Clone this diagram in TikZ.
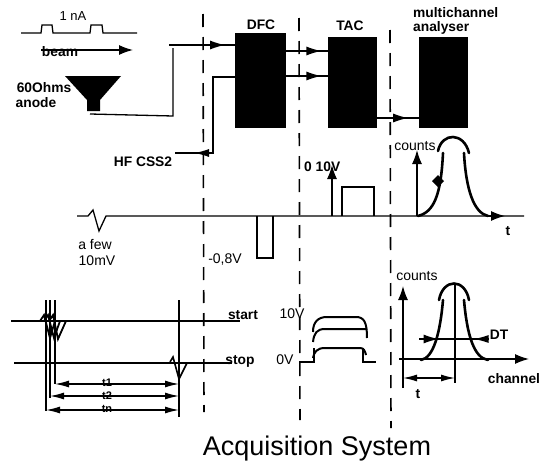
\documentclass[tikz,border=0pt]{standalone}
\usepackage{fontspec}
\setmainfont{Liberation Sans}
\usetikzlibrary{arrows.meta,decorations.markings}
\tikzset{
  blackbox/.style={fill=black,draw=black,minimum width=#1,inner sep=0pt},
  sig/.style={line width=1.3pt,black},
  curve/.style={line width=2.6pt,black,line cap=round},
  sep/.style={line width=1.6pt,dash pattern=on 13pt off 10pt},
  head/.style={-{Latex[length=14pt,width=10pt]}},
  midarrow/.style={postaction={decorate},decoration={markings,mark=at position #1 with {\arrow{Latex[length=15pt,width=9pt]}}}},
  midback/.style={postaction={decorate},decoration={markings,mark=at position #1 with {\arrowreversed{Latex[length=15pt,width=8pt]}}}},
  bold/.style={font=\bfseries\fontsize{13.8}{15}\selectfont,inner sep=0pt},
  plain/.style={font=\fontsize{14}{15}\selectfont,inner sep=0pt},
  small/.style={font=\bfseries\fontsize{11}{12}\selectfont,inner sep=0pt},
  span/.style={sig,{Latex[length=14pt,width=7pt]}-{Latex[length=14pt,width=7pt]}},
}
\begin{document}
\begin{tikzpicture}[x=1pt,y=-1pt]
\useasboundingbox (0,0) rectangle (542,466);
% separators
\draw[sep] (203,14) -- (204,412);
\draw[sep] (299,18) -- (300,420);
\draw[sep] (390,30) -- (391,428);
% boxes
\node[blackbox=50pt,minimum height=94pt] (dfc) at (260,80) {};
\node[blackbox=48pt,minimum height=90pt] (tac) at (352,82) {};
\node[blackbox=48pt,minimum height=90pt] (mca) at (443,82) {};
\node[bold] (dfcl) at (261,25) {DFC};
\node[bold] (tacl) at (350,26) {TAC};
\node[bold,anchor=west] (mcal1) at (413,13) {multichannel};
\node[bold,anchor=west] (mcal2) at (413,28) {analyser};
% beam
\node[plain,font=\fontsize{13}{14}\selectfont] (na) at (73,16) {1 nA};
\draw[sig] (21,33) -- (41,33) -- (42,25) -- (52,25) -- (53,33) -- (90,33) -- (91,25) -- (102,25) -- (103,33) -- (137,33);
\node[bold] (beam) at (60,52) {beam};
\coordinate (bs) at (41,50); \coordinate (be) at (133,50);
\draw[sig,head] (bs) -- (be);
% anode
\fill[black] (65,76) -- (121,76) -- (100,100) -- (100,111) -- (87,111) -- (87,100) -- cycle;
\node[bold] (ohm) at (44,88) {60Ohms};
\node[bold] (anode) at (36,103) {anode};
\coordinate (an) at (90,114); \coordinate (an2) at (173,116); \coordinate (an3) at (173,48);
\draw[sig] (an) -- (an2) -- (an3);
% connectors to DFC
\coordinate (i1) at (169,45); \coordinate (i2) at (235,45);
\draw[sig,midarrow=0.85] (i1) -- (i2);
\coordinate (hf) at (175,153); \coordinate (hf2) at (213,153); \coordinate (hf3) at (213,77);
\node[bold] (hfl) at (143,162) {HF CSS2};
\draw[sig,midback=0.14] (hf) -- (hf2) -- (hf3) -- (dfc.west |- hf3);
% DFC to TAC
\coordinate (d1) at (dfc.east |- 0,51); \coordinate (d2) at (dfc.east |- 0,76);
\draw[sig,midarrow=0.85] (d1) -- (tac.west |- d1);
\draw[sig,midarrow=0.85] (d2) -- (tac.west |- d2);
% TAC to MCA
\coordinate (t1) at (tac.east |- 0,118);
\draw[sig,midarrow=0.75] (t1) -- (mca.west |- t1);
% middle baseline
\coordinate (m0) at (77,216); \coordinate (m1) at (524,216);
\draw[sig] (m0) -- (88,216) -- (93,210) -- (99,231) -- (106,216) -- (m1);
\node[plain] (few) at (95,245) {a few};
\node[plain] (mv) at (97,261) {10mV};
\node[plain] (v08) at (225,260) {-0,8V};
\draw[sig] (257,216) -- (257,258) -- (273,258) -- (273,216);
\draw[sig] (342,216) -- (342,187) -- (374,187) -- (374,216);
\coordinate (a1b) at (332,216); \coordinate (a1t) at (332,165);
\draw[sig,head] (a1b) -- (a1t);
\node[bold,anchor=west] (ten) at (304,167) {0 10V};
\coordinate (a2b) at (417,216); \coordinate (a2t) at (417,150);
\draw[sig,head] (a2b) -- (a2t);
\node[plain] (c1) at (415,146) {counts};
\draw[curve] (418,216) .. controls (434,212) and (441,195) .. (443,153);
\draw[curve] (438,151) .. controls (442,132) and (464,132) .. (469,153);
\draw[curve] (464,153) .. controls (466,190) and (474,213) .. (488,216);
\fill[black] (438,175) -- (444,181) -- (438,187) -- (432,181) -- cycle;
\coordinate (a3) at (488,216); \coordinate (a4) at (505,216);
\draw[sig,head] (a3) -- (a4);
\node[bold] (tt) at (508,231) {t};
% timing
\coordinate (s0) at (11,321); \coordinate (s1) at (240,321);
\coordinate (p0) at (14,363); \coordinate (p1) at (232,363);
\draw[sig] (s0) -- (s1);
\draw[sig] (p0) -- (p1);
\node[bold] (start) at (243,315) {start};
\node[bold] (stop) at (240,361) {stop};
\draw[line width=1.8pt] (40,321) -- (44,315) -- (50,338) -- (55,321);
\draw[line width=1.8pt] (44,321) -- (48,315) -- (54,338) -- (60,321);
\draw[line width=1.8pt] (49,321) -- (53,315) -- (58,339) -- (66,321);
\draw[line width=1.6pt] (170,362) -- (173,357) -- (179,379) -- (187,363);
\coordinate (v1) at (46,300); \coordinate (v1b) at (46,411);
\coordinate (v2) at (50,300); \coordinate (v2b) at (50,398);
\coordinate (v3) at (55,300); \coordinate (v3b) at (55,384);
\coordinate (vr) at (179,300); \coordinate (vrb) at (179,417);
\draw[sig] (v1) -- (v1b); \draw[sig] (v2) -- (v2b); \draw[sig] (v3) -- (v3b);
\draw[line width=1.3pt] (vr) -- (vrb);
\draw[span] (v3b) -- (vr |- v3b);
\draw[span] (v2b |- 0,396) -- (vr |- 0,396);
\draw[span] (v1b |- 0,410) -- (vr |- 0,410);
\node[small] (l1) at (107,383) {t1};
\node[small] (l2) at (107,396) {t2};
\node[small] (l3) at (107,409) {tn};
% TAC pulses
\node[plain] (v10) at (292,314) {10V};
\node[plain] (v0) at (285,360) {0V};
\draw[sig] (299,362) -- (314,362) -- (314,348);
\draw[sig] (363,348) -- (363,362) -- (376,362);
\draw[line width=2pt] (313,332) .. controls (313,322) and (318,317) .. (327,317) -- (356,317) .. controls (364,317) and (367,322) .. (367,338);
\draw[line width=2pt] (313,342) .. controls (314,333) and (317,329) .. (325,329) -- (367,329);
\draw[line width=2pt] (313,358) .. controls (314,352) and (317,348) .. (325,348) -- (360,348) .. controls (364,348) and (365,351) .. (366,355);
% lower plot
\coordinate (x0) at (399,359); \coordinate (x1) at (529,359);
\coordinate (y0) at (403,388); \coordinate (y1) at (403,286);
\draw[sig,head] (y0) -- (y1);
\draw[sig,head] (x0) -- (x1);
\node[plain] (c2) at (417,276) {counts};
\draw[curve] (421,360) .. controls (433,358) and (440,335) .. (443,300);
\draw[curve] (439,300) .. controls (443,278) and (465,278) .. (469,300);
\draw[curve] (464,300) .. controls (467,335) and (474,358) .. (488,360);
\coordinate (cv) at (455,284); \coordinate (cvb) at (455,383);
\draw[sig] (cv) -- (cvb);
\coordinate (dt0) at (419,339); \coordinate (dt1) at (489,339);
\draw[sig,midarrow=0.28] (dt0) -- (dt1);
\draw[sig,midback=0.78] (dt0) -- (dt1);
\node[bold] (dt) at (499,335) {DT};
\draw[span] (y0 |- 0,378) -- (cv |- 0,378);
\node[bold] (ch) at (514,379) {channel};
\node[bold] (t2) at (418,394) {t};
\node[font=\fontsize{27}{30}\selectfont,inner sep=0pt] (title) at (317,449) {Acquisition System};
\end{tikzpicture}
\end{document}
